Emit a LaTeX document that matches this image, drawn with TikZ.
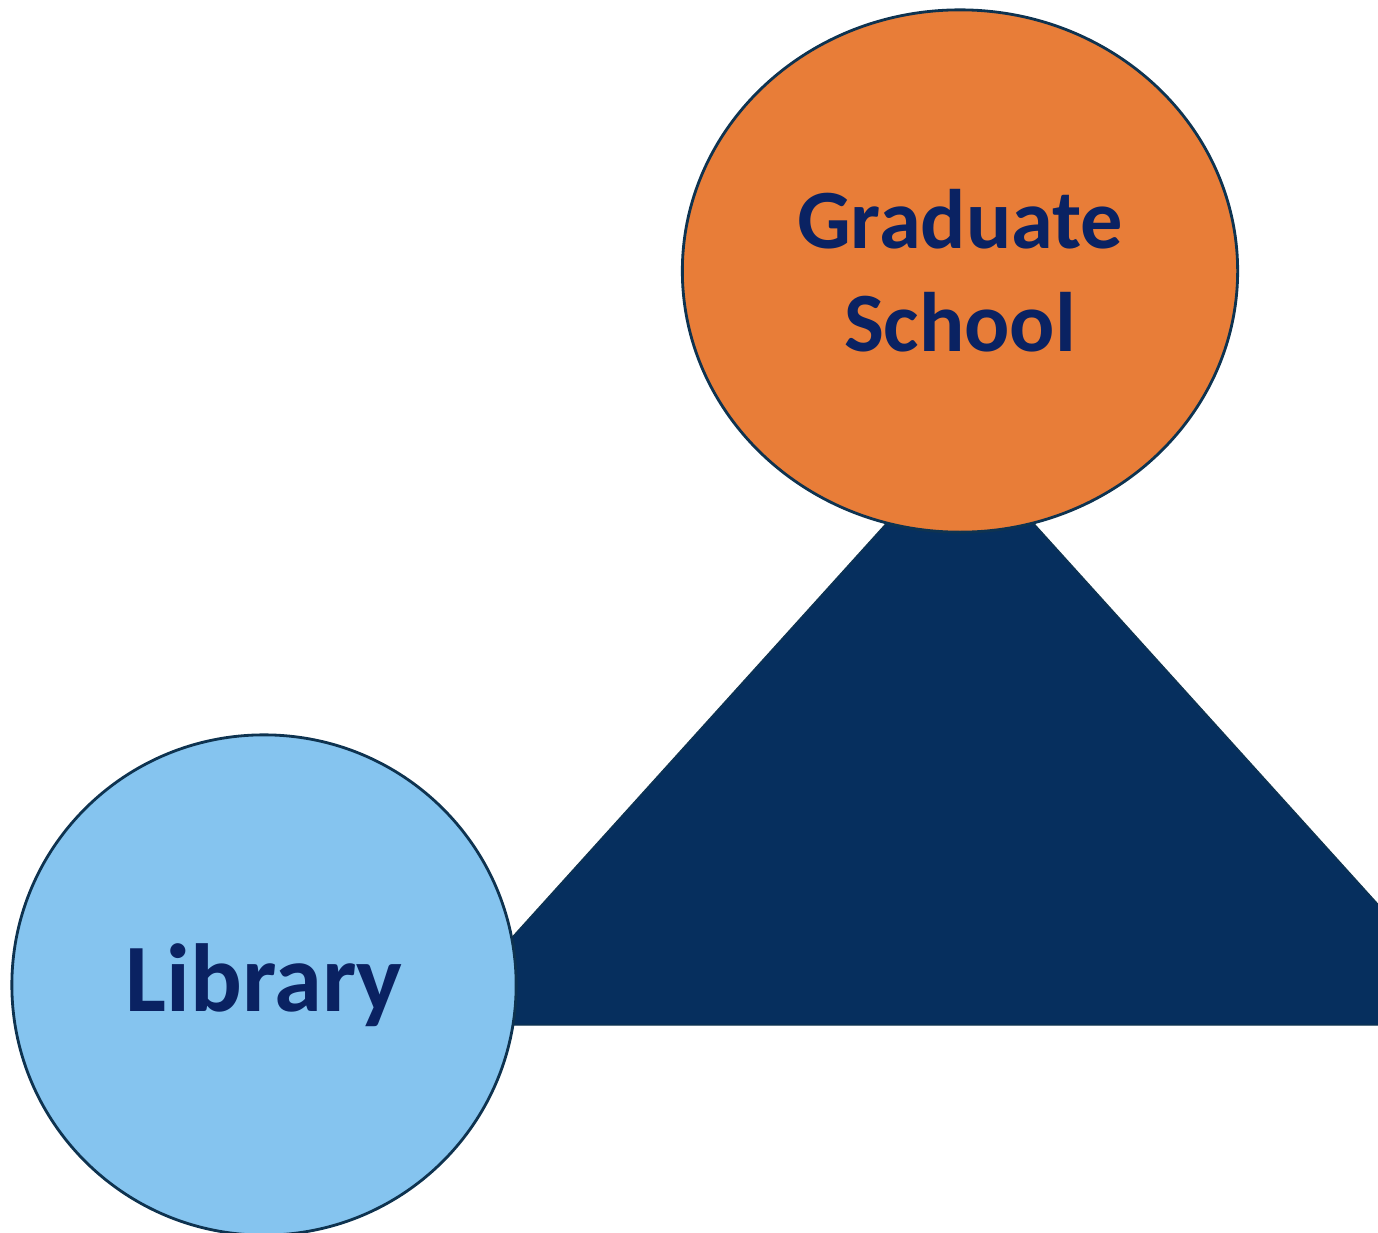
\documentclass[tikz,border=0pt]{standalone}
\usepackage{fontspec}
\setmainfont{Carlito}
\usepackage{tikz}
\usetikzlibrary{shapes.geometric}

\definecolor{navyfill}{HTML}{062F5E}
\definecolor{navytext}{HTML}{0A2262}
\definecolor{rimline}{HTML}{0E3350}
\definecolor{gradorange}{HTML}{E87D38}
\definecolor{libblue}{HTML}{85C4EF}

\begin{document}
\begin{tikzpicture}[x=0.01cm, y=-0.01cm,
    blob/.style={ellipse, draw=rimline, line width=0.8pt, inner sep=0pt,
        text=navytext, font=\bfseries, align=center}]
    \useasboundingbox (0, 0) rectangle (1378, 1233);
    \clip (0, 0) rectangle (1378, 1233);
    % the triangle behind
    \coordinate (apex) at (960, 442);
    \coordinate (baseL) at (433, 1025);
    \coordinate (baseR) at (1487, 1025);
    \fill[navyfill, draw=rimline, line width=0.4pt] (apex) -- (baseR) -- (baseL) -- cycle;
    % the two circles
    \node[blob, fill=gradorange, minimum width=5.55cm, minimum height=5.22cm,
        font=\bfseries\fontsize{24}{29.2}\selectfont] (grad) at (960, 271)
        {Graduate\\School};
    \node[blob, fill=libblue, minimum width=5.04cm, minimum height=5.0cm,
        font=\bfseries\fontsize{27.5}{33}\selectfont] (lib) at (264, 985)
        {Library};
\end{tikzpicture}
\end{document}
